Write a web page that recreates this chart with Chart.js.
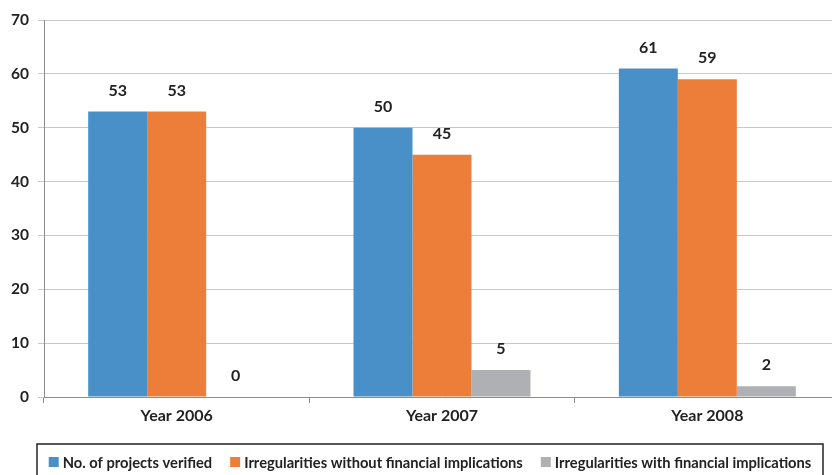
<!DOCTYPE html>
<html>
<head>
<meta charset="utf-8">
<script src="https://cdn.jsdelivr.net/npm/chart.js@4/dist/chart.umd.min.js"></script>
<style>
  html, body { margin: 0; padding: 0; background: #fff; overflow: hidden; }
  #wrap { width: 840px; height: 475px; position: relative; }
</style>
</head>
<body>
<div id="wrap"><canvas id="c"></canvas></div>
<script>
// Categories and series
const years = ['Year 2006', 'Year 2007', 'Year 2008'];
const projectsVerified = [53, 50, 61];
const withoutFinancial = [53, 45, 59];
const withFinancial = [0, 5, 2];
const yTicks = [0, 10, 20, 30, 40, 50, 60, 70];

const seriesNames = [
  'No. of projects verified',
  'Irregularities without financial implications',
  'Irregularities with financial implications'
];
const seriesColors = ['#4A90C8', '#EC7E3A', '#AEB0B3'];

const FONT = 'Lato, "Open Sans", sans-serif';
const TEXT = '#222222';

// Value labels above each bar
const valueLabels = {
  id: 'valueLabels',
  afterDatasetsDraw(chart) {
    const ctx = chart.ctx;
    ctx.save();
    ctx.font = 'bold 16px ' + FONT;
    ctx.fillStyle = TEXT;
    ctx.textAlign = 'center';
    ctx.textBaseline = 'middle';
    chart.data.datasets.forEach((ds, i) => {
      chart.getDatasetMeta(i).data.forEach((bar, j) => {
        ctx.fillText(String(ds.data[j]), bar.x, bar.y - 21);
      });
    });
    ctx.restore();
  }
};

// Boxed legend along the bottom
const boxedLegend = {
  id: 'boxedLegend',
  afterDraw(chart) {
    const ctx = chart.ctx;
    const boxL = 37, boxR = 823, boxT = 444, boxB = 490;
    const midY = 462;
    const sw = 10, gapText = 4, gapItem = 18;
    ctx.save();
    ctx.strokeStyle = '#222';
    ctx.lineWidth = 1.5;
    ctx.strokeRect(boxL, boxT, boxR - boxL, boxB - boxT);
    ctx.font = 'bold 14.7px ' + FONT;
    ctx.textBaseline = 'middle';
    ctx.textAlign = 'left';
    const items = chart.data.datasets.map(ds => ({
      label: ds.label, color: ds.backgroundColor, w: ctx.measureText(ds.label).width
    }));
    const total = items.reduce((s, it) => s + sw + gapText + it.w, 0) + gapItem * (items.length - 1);
    let x = (boxL + boxR) / 2 - total / 2;
    items.forEach(it => {
      ctx.fillStyle = it.color;
      ctx.fillRect(x, midY - sw / 2, sw, sw);
      x += sw + gapText;
      ctx.fillStyle = TEXT;
      ctx.fillText(it.label, x, midY + 1);
      x += it.w + gapItem;
    });
    ctx.restore();
  }
};

new Chart(document.getElementById('c'), {
  type: 'bar',
  data: {
    labels: years,
    datasets: [
      { label: seriesNames[0], data: projectsVerified, backgroundColor: seriesColors[0] },
      { label: seriesNames[1], data: withoutFinancial, backgroundColor: seriesColors[1] },
      { label: seriesNames[2], data: withFinancial, backgroundColor: seriesColors[2] }
    ]
  },
  options: {
    responsive: true,
    maintainAspectRatio: false,
    animation: false,
    layout: { padding: { top: 20, right: 0, left: 0, bottom: 0 } },
    datasets: { bar: { barPercentage: 1, categoryPercentage: 0.667, borderWidth: 0 } },
    plugins: {
      legend: { display: false },
      tooltip: { enabled: false }
    },
    scales: {
      x: {
        offset: true,
        grid: { offset: true, drawOnChartArea: false, drawTicks: true, tickLength: 6, color: '#8C8C8C' },
        border: { color: '#8C8C8C', width: 1 },
        ticks: { color: TEXT, font: { family: FONT, size: 16, weight: 'bold' }, padding: 3 },
        afterFit(scale) { scale.height = 78; }
      },
      y: {
        min: 0,
        max: 70,
        afterBuildTicks(scale) { scale.ticks = yTicks.map(v => ({ value: v })); },
        grid: { color: '#C8C8C8', tickLength: 6, drawTicks: true },
        border: { color: '#8C8C8C', width: 1 },
        ticks: { color: TEXT, font: { family: FONT, size: 15.5, weight: 'bold' }, padding: 9 },
        afterFit(scale) { scale.width = 44; }
      }
    }
  },
  plugins: [valueLabels, boxedLegend]
});
</script>
</body>
</html>
